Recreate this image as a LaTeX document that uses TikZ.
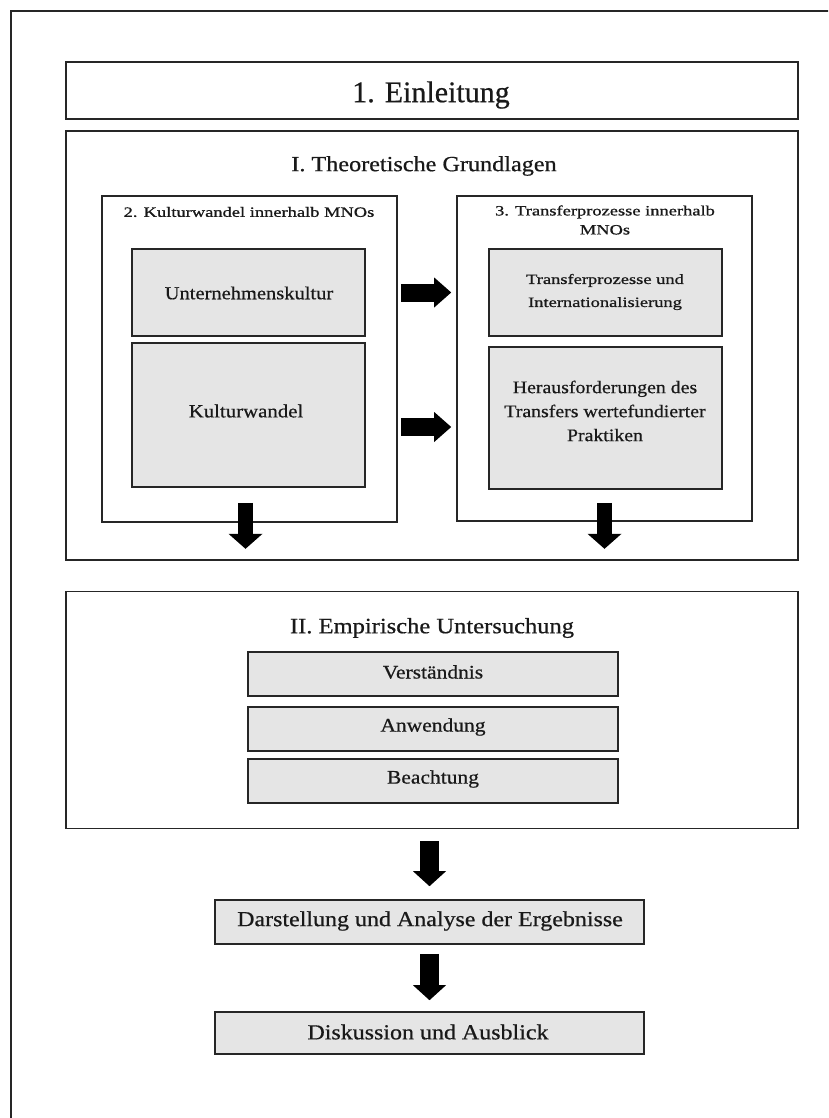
\documentclass[tikz,border=0pt]{standalone}
\usepackage{fontspec}
\setmainfont{Liberation Serif}[FakeStretch=1.12, FakeBold=0.6]
\newfontfamily\plainfont{Liberation Serif}[FakeBold=0.6]
\newfontfamily\widefont{Liberation Serif}[FakeStretch=1.3, FakeBold=0.9]
\usetikzlibrary{arrows.meta,calc}

\newcommand{\fsz}[2]{\fontsize{#1}{#2}\selectfont}

\begin{document}
\begin{tikzpicture}[x=1pt,y=-1pt,
  frame/.style={draw=black!85, line width=1.6pt},
  whitebox/.style={frame, fill=white, inner sep=0pt},
  graybox/.style={frame, fill=black!10, inner sep=0pt},
  txt/.style={inner sep=0pt, align=center, text=black!90},
  blockarr/.style n args={3}{draw=black, line width=#1,
    -{Triangle[length=#2, width=#3, line width=0pt]}}
]
\useasboundingbox (0,0) rectangle (828,1118);
\clip (0,0) rectangle (828,1118);

% page frame (open towards the right and bottom)
\draw[frame] (11,1130) -- (11,11) -- (840,11);

% introduction
\node[whitebox, minimum width=732pt, minimum height=57pt] (einl) at (432,90.5) {};
\node[txt, font=\plainfont\fsz{30}{36}] (einlt) at (431,95) {1. Einleitung};

% theoretical part
\node[whitebox, minimum width=732pt, minimum height=429pt] (theo) at (432,345.5) {};
\node[txt, font=\fsz{21.6}{26}] (theot) at (424,166) {I. Theoretische Grundlagen};

\node[whitebox, minimum width=295pt, minimum height=326pt] (box2) at (249.5,359) {};
\node[txt, font=\widefont\fsz{14.2}{19}] (box2t) at (249,212) {2. Kulturwandel innerhalb MNOs};

\node[whitebox, minimum width=295pt, minimum height=325pt] (box3) at (604.5,358.5) {};
\node[txt, font=\widefont\fsz{14.2}{19}] (box3t) at (605,220) {3. Transferprozesse innerhalb\\MNOs};

\node[graybox, minimum width=233pt, minimum height=87pt] (unt) at (248.5,292.5) {};
\node[txt, font=\fsz{18.3}{22}] (untt) at (249,293) {Unternehmenskultur};

\node[graybox, minimum width=233pt, minimum height=144pt] (kw) at (248.5,415) {};
\node[txt, font=\fsz{18.6}{22}] (kwt) at (246,411) {Kulturwandel};

\node[graybox, minimum width=233pt, minimum height=87pt] (tpi) at (605.5,292.5) {};
\node[txt, font=\widefont\fsz{14.2}{23}] (tpit) at (605,292) {Transferprozesse und\\Internationalisierung};

\node[graybox, minimum width=233pt, minimum height=142pt] (her) at (605.5,418) {};
\node[txt, font=\fsz{17.7}{24}] (hert) at (605,411) {Herausforderungen des\\Transfers wertefundierter\\Praktiken};

% arrows inside the theoretical part
\draw[blockarr={18pt}{17pt}{30pt}] ($(unt.east -| box2.east)+(3,0)$) -- ($(unt.east -| box3.west)+(-5,0)$);
\draw[blockarr={18pt}{17pt}{30pt}] ($(kw.east -| box2.east)+(3,12)$) -- ($(kw.east -| box3.west)+(-5,12)$);
\draw[blockarr={15pt}{15pt}{34pt}] ($(box2.south)+(-4,-20)$) -- ($(box2.south)+(-4,26)$);
\draw[blockarr={15pt}{15pt}{34pt}] ($(box3.south)+(0,-19)$) -- ($(box3.south)+(0,27)$);

% empirical part
\node[whitebox, minimum width=732pt, minimum height=237pt] (emp) at (432,710) {};
\node[txt, font=\fsz{21.9}{26}] (empt) at (432,628) {II. Empirische Untersuchung};

\node[graybox, minimum width=370pt, minimum height=44pt] (ver) at (433,674) {};
\node[txt, font=\fsz{19.2}{23}] (vert) at (433,672) {Verständnis};
\node[graybox, minimum width=370pt, minimum height=44pt] (anw) at (433,729) {};
\node[txt, font=\fsz{19.2}{23}] (anwt) at (433,727) {Anwendung};
\node[graybox, minimum width=370pt, minimum height=44pt] (bea) at (433,781) {};
\node[txt, font=\fsz{19.2}{23}] (beat) at (433,779) {Beachtung};

% results and outlook
\node[graybox, minimum width=429pt, minimum height=44pt] (dar) at (429.5,922) {};
\node[txt, font=\fsz{21.4}{26}] (dart) at (430,921) {Darstellung und Analyse der Ergebnisse};
\node[graybox, minimum width=429pt, minimum height=42pt] (dis) at (429.5,1033) {};
\node[txt, font=\fsz{21.4}{26}] (dist) at (428,1032) {Diskussion und Ausblick};

\draw[blockarr={19pt}{15pt}{33pt}] ($(emp.south -| dar.north)+(0,12)$) -- ($(dar.north)+(0,-13)$);
\draw[blockarr={19pt}{15pt}{33pt}] ($(dar.south)+(0,9)$) -- ($(dis.north)+(0,-11)$);
\end{tikzpicture}
\end{document}
